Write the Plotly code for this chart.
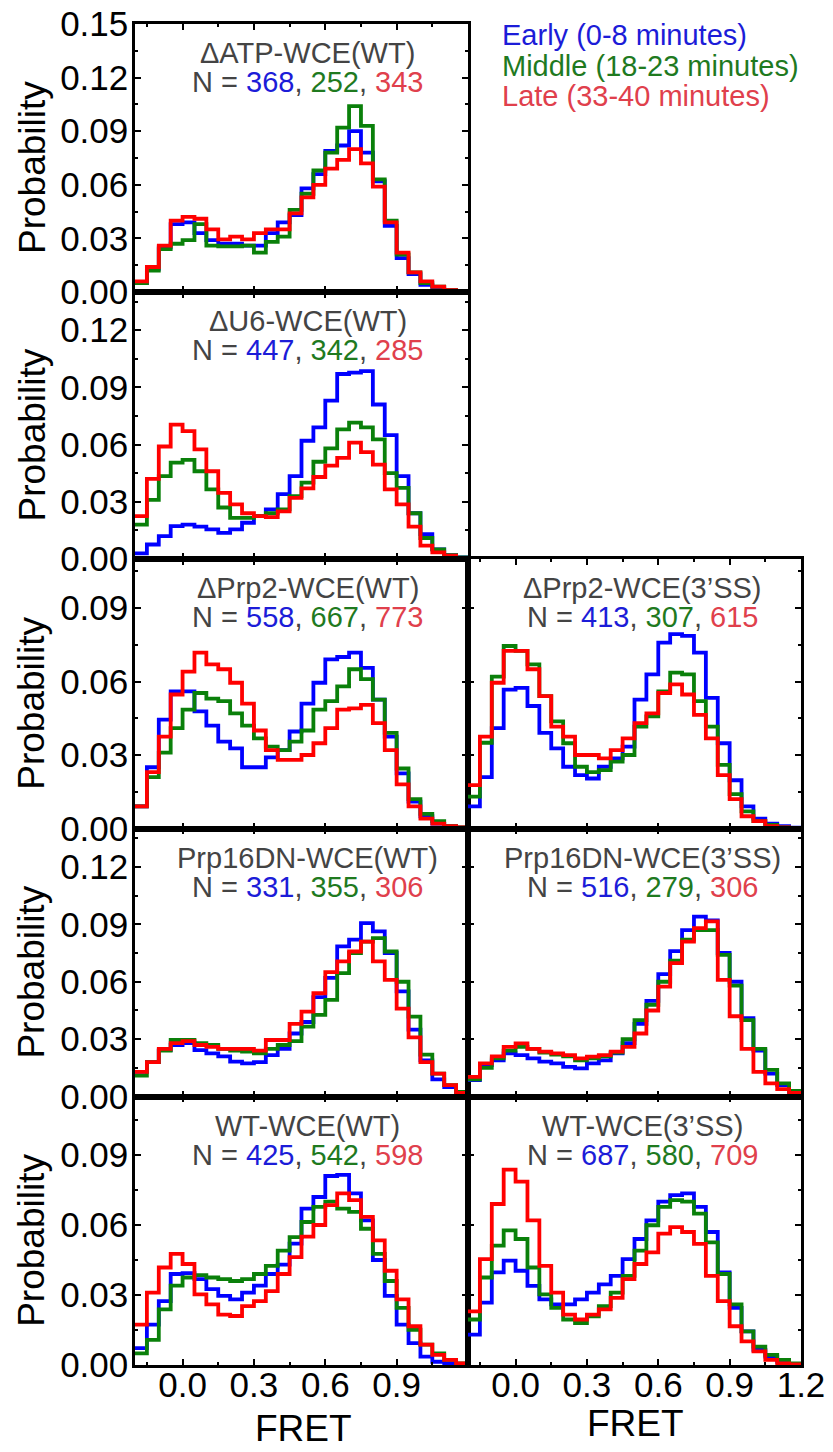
import plotly.graph_objects as go

# ---------------- data ----------------
fret_edges = [-0.2, -0.15, -0.1, -0.05, 0.0, 0.05, 0.1, 0.15, 0.2, 0.25, 0.3, 0.35, 0.4,
              0.45, 0.5, 0.55, 0.6, 0.65, 0.7, 0.75, 0.8, 0.85, 0.9, 0.95, 1.0, 1.05,
              1.1, 1.15, 1.2]

series_names = ["Early (0-8 minutes)", "Middle (18-23 minutes)", "Late (33-40 minutes)"]

panel_titles = ["\u0394ATP-WCE(WT)", "\u0394U6-WCE(WT)", "\u0394Prp2-WCE(WT)",
                "\u0394Prp2-WCE(3\u2019SS)", "Prp16DN-WCE(WT)", "Prp16DN-WCE(3\u2019SS)",
                "WT-WCE(WT)", "WT-WCE(3\u2019SS)"]

panel_counts = [[368, 252, 343], [447, 342, 285], [558, 667, 773], [413, 307, 615],
                [331, 355, 306], [516, 279, 306], [425, 542, 598], [687, 580, 709]]

atp_wt_early = [0.005, 0.013, 0.025, 0.038, 0.039, 0.033, 0.029, 0.027, 0.027, 0.026, 0.026, 0.033, 0.039, 0.043,
                0.058, 0.066, 0.079, 0.082, 0.090, 0.078, 0.062, 0.037, 0.019, 0.010, 0.004, 0.002, 0.001, 0.0003]
atp_wt_middle = [0.005, 0.012, 0.024, 0.027, 0.029, 0.038, 0.026, 0.0255, 0.0255, 0.026, 0.022, 0.028, 0.031, 0.046,
                 0.055, 0.068, 0.078, 0.092, 0.104, 0.093, 0.063, 0.040, 0.021, 0.011, 0.005, 0.003, 0.001, 0.0003]
atp_wt_late = [0.006, 0.014, 0.026, 0.040, 0.042, 0.041, 0.035, 0.0295, 0.031, 0.0295, 0.033, 0.035, 0.035, 0.044,
               0.053, 0.060, 0.069, 0.074, 0.080, 0.072, 0.059, 0.039, 0.022, 0.011, 0.006, 0.003, 0.001, 0.0005]

u6_wt_early = [0.003, 0.0076, 0.012, 0.0172, 0.018, 0.017, 0.0155, 0.0137, 0.0155, 0.019, 0.0225, 0.026, 0.034, 0.0435,
               0.062, 0.069, 0.083, 0.097, 0.0977, 0.0985, 0.081, 0.065, 0.0435, 0.024, 0.013, 0.005, 0.002, 0.0008]
u6_wt_middle = [0.018, 0.031, 0.0435, 0.0505, 0.052, 0.046, 0.0365, 0.027, 0.0216, 0.0216, 0.0225, 0.024, 0.026, 0.033,
                0.040, 0.051, 0.058, 0.068, 0.0715, 0.069, 0.0627, 0.045, 0.0373, 0.024, 0.011, 0.005, 0.002, 0.0008]
u6_wt_late = [0.0225, 0.042, 0.059, 0.0705, 0.067, 0.0575, 0.046, 0.0347, 0.0286, 0.024, 0.0225, 0.022, 0.025, 0.032,
              0.037, 0.043, 0.049, 0.053, 0.061, 0.056, 0.0495, 0.0365, 0.0286, 0.017, 0.007, 0.0035, 0.0017, 0.0005]

prp2_wt_early = [0.009, 0.025, 0.0444, 0.056, 0.056, 0.0478, 0.042, 0.0355, 0.0327, 0.025, 0.025, 0.029, 0.032, 0.0396,
                 0.051, 0.0595, 0.069, 0.070, 0.0718, 0.0656, 0.0526, 0.0375, 0.0225, 0.011, 0.005, 0.002, 0.001, 0.0003]
prp2_wt_middle = [0.009, 0.021, 0.031, 0.041, 0.0485, 0.0553, 0.053, 0.052, 0.047, 0.042, 0.0368, 0.0334, 0.032, 0.0355,
                  0.040, 0.0485, 0.052, 0.058, 0.065, 0.061, 0.0526, 0.039, 0.0245, 0.012, 0.006, 0.003, 0.001, 0.0005]
prp2_wt_late = [0.009, 0.023, 0.0375, 0.0547, 0.064, 0.0718, 0.067, 0.065, 0.0595, 0.051, 0.040, 0.032, 0.028, 0.028,
                0.030, 0.0348, 0.041, 0.0485, 0.049, 0.0505, 0.043, 0.032, 0.018, 0.009, 0.004, 0.002, 0.001, 0.0005]

prp2_ss_early = [0.009, 0.021, 0.041, 0.0567, 0.0574, 0.050, 0.039, 0.0327, 0.0252, 0.0218, 0.0204, 0.0252, 0.0286, 0.0334,
                 0.0526, 0.0629, 0.0759, 0.0793, 0.0786, 0.0718, 0.0533, 0.0348, 0.0197, 0.009, 0.004, 0.002, 0.001, 0.0003]
prp2_ss_middle = [0.013, 0.035, 0.062, 0.0745, 0.0725, 0.067, 0.054, 0.0437, 0.0348, 0.0252, 0.023, 0.0238, 0.0273, 0.030,
                  0.0416, 0.0458, 0.056, 0.0636, 0.0629, 0.052, 0.0416, 0.026, 0.014, 0.007, 0.003, 0.0015, 0.0005, 0.0002]
prp2_ss_late = [0.0177, 0.0375, 0.0595, 0.0725, 0.0725, 0.065, 0.054, 0.0416, 0.0375, 0.030, 0.030, 0.0286, 0.032, 0.0368,
                0.043, 0.047, 0.0553, 0.0588, 0.0547, 0.0464, 0.0368, 0.0218, 0.012, 0.005, 0.003, 0.001, 0.0005, 0.0002]

p16_wt_early = [0.013, 0.018, 0.0243, 0.027, 0.028, 0.0243, 0.0226, 0.021, 0.0183, 0.0174, 0.018, 0.0217, 0.025, 0.033,
                0.039, 0.052, 0.062, 0.0785, 0.082, 0.0906, 0.0863, 0.075, 0.055, 0.035, 0.019, 0.009, 0.005, 0.002]
p16_wt_middle = [0.011, 0.018, 0.024, 0.0296, 0.0296, 0.028, 0.027, 0.025, 0.024, 0.0235, 0.0226, 0.025, 0.027, 0.029,
                 0.0366, 0.0427, 0.0505, 0.0645, 0.075, 0.081, 0.0828, 0.0758, 0.060, 0.0418, 0.022, 0.012, 0.006, 0.0025]
p16_wt_late = [0.013, 0.018, 0.025, 0.028, 0.029, 0.027, 0.026, 0.025, 0.025, 0.025, 0.024, 0.0296, 0.0296, 0.038,
               0.0444, 0.054, 0.065, 0.0706, 0.0758, 0.081, 0.0706, 0.061, 0.046, 0.031, 0.018, 0.012, 0.006, 0.002]

p16_ss_early = [0.0086, 0.0165, 0.019, 0.0226, 0.0217, 0.020, 0.0183, 0.0174, 0.0156, 0.0148, 0.0174, 0.019, 0.0226, 0.028,
                0.038, 0.050, 0.064, 0.076, 0.087, 0.094, 0.092, 0.075, 0.060, 0.041, 0.024, 0.012, 0.006, 0.002]
p16_ss_middle = [0.009, 0.015, 0.020, 0.024, 0.026, 0.025, 0.023, 0.022, 0.021, 0.019, 0.020, 0.021, 0.023, 0.030,
                 0.040, 0.048, 0.060, 0.071, 0.082, 0.087, 0.087, 0.074, 0.058, 0.040, 0.025, 0.014, 0.007, 0.003]
p16_ss_late = [0.0104, 0.0174, 0.021, 0.026, 0.0278, 0.025, 0.0235, 0.0226, 0.0217, 0.020, 0.0209, 0.0217, 0.0235, 0.026,
               0.033, 0.045, 0.0575, 0.0697, 0.081, 0.088, 0.0915, 0.061, 0.042, 0.025, 0.013, 0.007, 0.004, 0.002]

wt_wt_early = [0.0072, 0.0173, 0.0274, 0.039, 0.0394, 0.0368, 0.0325, 0.0296, 0.0281, 0.031, 0.034, 0.039, 0.043, 0.052,
               0.067, 0.072, 0.081, 0.0815, 0.0736, 0.062, 0.045, 0.0296, 0.0173, 0.0094, 0.0036, 0.0014, 0.0007, 0.0002]
wt_wt_middle = [0.005, 0.0108, 0.0238, 0.034, 0.0375, 0.0385, 0.0375, 0.0368, 0.036, 0.0368, 0.039, 0.0425, 0.049, 0.0548,
                0.0613, 0.0678, 0.070, 0.067, 0.0656, 0.0584, 0.0476, 0.036, 0.0245, 0.0151, 0.0087, 0.005, 0.0022, 0.0007]
wt_wt_late = [0.0173, 0.031, 0.0418, 0.0476, 0.0433, 0.0303, 0.026, 0.0216, 0.021, 0.0252, 0.0274, 0.0317, 0.039, 0.0462,
              0.055, 0.060, 0.0685, 0.0736, 0.0707, 0.0635, 0.0534, 0.0404, 0.0281, 0.0166, 0.0087, 0.0043, 0.0022, 0.0007]

wt_ss_early = [0.013, 0.0267, 0.0397, 0.0447, 0.0404, 0.0339, 0.0281, 0.026, 0.026, 0.0281, 0.031, 0.0346, 0.0382, 0.0454,
               0.054, 0.062, 0.070, 0.0728, 0.0736, 0.0678, 0.057, 0.0397, 0.0245, 0.0144, 0.0065, 0.0036, 0.0014, 0.0004]
wt_ss_middle = [0.0195, 0.0375, 0.0512, 0.0577, 0.054, 0.0418, 0.0303, 0.0245, 0.0195, 0.018, 0.0209, 0.0252, 0.031, 0.0382,
                0.049, 0.0599, 0.0678, 0.0707, 0.070, 0.0649, 0.0526, 0.039, 0.026, 0.0144, 0.0079, 0.0043, 0.0022, 0.0007]
wt_ss_late = [0.023, 0.0454, 0.069, 0.0837, 0.0786, 0.062, 0.0425, 0.031, 0.0216, 0.0195, 0.0216, 0.0238, 0.0288, 0.0368,
              0.0433, 0.0483, 0.0563, 0.0591, 0.057, 0.0519, 0.0382, 0.0274, 0.0166, 0.0101, 0.0058, 0.0022, 0.0007, 0.0003]

panel_data = [
    (atp_wt_early, atp_wt_middle, atp_wt_late),
    (u6_wt_early, u6_wt_middle, u6_wt_late),
    (prp2_wt_early, prp2_wt_middle, prp2_wt_late),
    (prp2_ss_early, prp2_ss_middle, prp2_ss_late),
    (p16_wt_early, p16_wt_middle, p16_wt_late),
    (p16_ss_early, p16_ss_middle, p16_ss_late),
    (wt_wt_early, wt_wt_middle, wt_wt_late),
    (wt_ss_early, wt_ss_middle, wt_ss_late),
]

# y-axis top of each row and its labelled ticks
row_ymax = [0.15, 0.14, 0.11, 0.14, 0.115]
row_yticks = [[0.0, 0.03, 0.06, 0.09, 0.12, 0.15],
              [0.0, 0.03, 0.06, 0.09, 0.12],
              [0.0, 0.03, 0.06, 0.09],
              [0.0, 0.03, 0.06, 0.09, 0.12],
              [0.0, 0.03, 0.06, 0.09]]
row_yminor = [[0.015, 0.045, 0.075, 0.105, 0.135],
              [0.015, 0.045, 0.075, 0.105, 0.135],
              [0.015, 0.045, 0.075, 0.105],
              [0.015, 0.045, 0.075, 0.105, 0.135],
              [0.015, 0.045, 0.075, 0.105]]
x_ticks_left = [0.0, 0.3, 0.6, 0.9]
x_ticks_right = [0.0, 0.3, 0.6, 0.9, 1.2]
x_minor = [-0.15, 0.15, 0.45, 0.75, 1.05]

# panel placement: (row, col)
panel_pos = [(0, 0), (1, 0), (2, 0), (2, 1), (3, 0), (3, 1), (4, 0), (4, 1)]

# ---------------- style / layout ----------------
W, H = 833, 1452
col_px = [(135, 468), (468, 801)]
row_px = [(24, 292), (292, 559), (559, 828.5), (828.5, 1096.7), (1096.7, 1365)]

line_colors = ["#0000ff", "#0a800a", "#ff0000"]
text_colors = ["#1c1cd8", "#1f7a1f", "#e0404c"]
FONT = "Arial, 'Liberation Sans', Helvetica, sans-serif"


def px_x(p):
    return p / W


def px_y(p):
    return 1 - p / H


fig = go.Figure()
layout = dict(
    width=W, height=H,
    margin=dict(l=0, r=0, t=0, b=0, pad=0, autoexpand=False),
    paper_bgcolor="white", plot_bgcolor="white",
    showlegend=False,
    font=dict(family=FONT, color="black"),
)
annotations = []

for i, (data, (r, c)) in enumerate(zip(panel_data, panel_pos)):
    idx = i + 1
    xa = "x" if idx == 1 else f"x{idx}"
    ya = "y" if idx == 1 else f"y{idx}"
    for s, vals in enumerate(data):
        fig.add_trace(go.Scatter(
            x=fret_edges, y=list(vals) + [vals[-1]],
            mode="lines", line=dict(color=line_colors[s], width=3.8, shape="hv"),
            xaxis=xa, yaxis=ya, name=series_names[s], hoverinfo="skip",
        ))
    x0, x1 = col_px[c]
    y0, y1 = row_px[r]
    bottom = (r == 4)
    xticks = x_ticks_left if c == 0 else x_ticks_right
    layout["xaxis" if idx == 1 else f"xaxis{idx}"] = dict(
        domain=[px_x(x0), px_x(x1)], anchor=ya, range=[-0.2, 1.2],
        tickmode="array", tickvals=xticks, ticktext=[f"{v:.1f}" for v in xticks],
        showticklabels=bottom, ticks="inside", ticklen=6, tickwidth=2, tickcolor="black",
        showline=True, linewidth=2.5, linecolor="black", mirror="allticks",
        showgrid=False, zeroline=False, automargin=False,
        tickfont=dict(size=35, family=FONT, color="black"), ticklabelstandoff=-13,
        minor=dict(tickmode="array", tickvals=x_minor, ticks="inside", ticklen=3,
                   tickwidth=2, tickcolor="black", showgrid=False),
    )
    yt = row_yticks[r]
    layout["yaxis" if idx == 1 else f"yaxis{idx}"] = dict(
        domain=[px_y(y1), px_y(y0)], anchor=xa, range=[0, row_ymax[r]],
        tickmode="array", tickvals=yt, ticktext=[f"{v:.2f}" for v in yt],
        showticklabels=(c == 0), ticks="inside", ticklen=6, tickwidth=2, tickcolor="black",
        showline=True, linewidth=2.5, linecolor="black", mirror="allticks",
        showgrid=False, zeroline=False, automargin=False,
        tickfont=dict(size=35, family=FONT, color="black"), ticklabelstandoff=-3,
        minor=dict(tickmode="array", tickvals=row_yminor[r], ticks="inside", ticklen=3,
                   tickwidth=2, tickcolor="black", showgrid=False),
    )
    # panel title and counts
    cx = (x0 + x1) / 2 + (6 if c == 0 else 8)
    annotations.append(dict(
        x=px_x(cx), y=px_y(y0 + 29), xref="paper", yref="paper",
        text=panel_titles[i], showarrow=False, xanchor="center", yanchor="middle",
        font=dict(size=29, family=FONT, color="#444444"),
    ))
    n = panel_counts[i]
    ntext = (f"N = <span style='color:{text_colors[0]}'>{n[0]}</span>, "
             f"<span style='color:{text_colors[1]}'>{n[1]}</span>, "
             f"<span style='color:{text_colors[2]}'>{n[2]}</span>")
    annotations.append(dict(
        x=px_x(cx), y=px_y(y0 + 58), xref="paper", yref="paper",
        text=ntext, showarrow=False, xanchor="center", yanchor="middle",
        font=dict(size=29, family=FONT, color="#444444"),
    ))

# y titles
for r, (y0, y1) in enumerate(row_px):
    annotations.append(dict(
        x=px_x(32), y=px_y((y0 + y1) / 2 + 10), xref="paper", yref="paper",
        text="Probability", textangle=-90, showarrow=False,
        xanchor="center", yanchor="middle", font=dict(size=37, family=FONT, color="black"),
    ))

# x titles
annotations.append(dict(x=px_x(303), y=px_y(1428), xref="paper", yref="paper", text="FRET",
                        showarrow=False, xanchor="center", yanchor="middle",
                        font=dict(size=37, family=FONT, color="black")))
annotations.append(dict(x=px_x(635), y=px_y(1423), xref="paper", yref="paper", text="FRET",
                        showarrow=False, xanchor="center", yanchor="middle",
                        font=dict(size=37, family=FONT, color="black")))

# legend text
for s, yy in enumerate([35, 66, 96]):
    annotations.append(dict(x=px_x(500), y=px_y(yy), xref="paper", yref="paper",
                            text=series_names[s], showarrow=False,
                            xanchor="left", yanchor="middle",
                            font=dict(size=29, family=FONT, color=text_colors[s])))

layout["annotations"] = annotations
fig.update_layout(**layout)
fig.write_html(
    "out.html",
    config={"displayModeBar": False},
    post_script="document.body.style.margin='0px';document.body.style.padding='0px';"
                "document.body.style.overflow='hidden';",
)
